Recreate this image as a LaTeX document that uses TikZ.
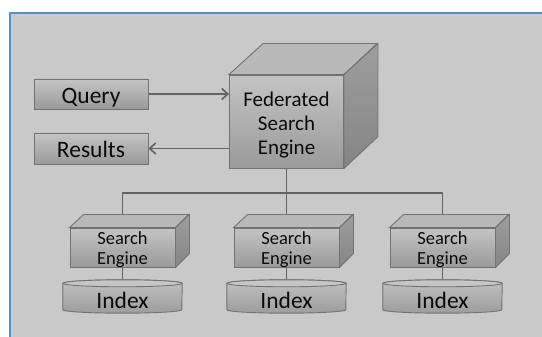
\documentclass[tikz,border=0pt]{standalone}
\usepackage{fontspec}
\setmainfont{Carlito}
\usetikzlibrary{arrows.meta}
\definecolor{bg}{HTML}{C9C9C9}
\definecolor{frameC}{HTML}{5A8CD2}
\definecolor{edge}{HTML}{727272}
\definecolor{faceT}{HTML}{C4C4C4}
\definecolor{faceB}{HTML}{9A9A9A}
\definecolor{topC}{HTML}{B9B9B9}
\definecolor{sideT}{HTML}{9E9E9E}
\definecolor{sideB}{HTML}{858585}
\definecolor{lineC}{HTML}{636363}
\definecolor{cylT}{HTML}{C2C2C2}
\definecolor{cylB}{HTML}{9C9C9C}
\definecolor{cylTop}{HTML}{C6C6C6}
\definecolor{txt}{HTML}{0A0A0A}
\pgfdeclarelayer{bottom}
\pgfdeclarelayer{background}
\pgfsetlayers{bottom,background,main}
\tikzset{
  face/.style={draw=edge, line width=0.9pt, top color=faceT, bottom color=faceB, inner sep=0pt, text=txt},
  lbl/.style={face, font=\fontsize{23.5}{26}\selectfont, text height=18.5pt, text depth=0pt, minimum width=114pt},
  idx/.style={inner sep=0pt, minimum width=119pt, minimum height=33pt, text=txt,
              font=\fontsize{23.5}{26}\selectfont, text height=24pt, text depth=0pt},
  conn/.style={draw=lineC, line width=1.7pt},
  arr/.style={conn, -{Straight Barb[length=6pt,width=11pt]}},
  topface/.style={draw=edge, line width=0.9pt, fill=topC},
  sideface/.style={draw=edge, line width=0.9pt, top color=sideT, bottom color=sideB},
  bigtxt/.style={align=center, font=\fontsize{21}{24}\selectfont, inner sep=0pt, text=txt},
  smalltxt/.style={align=center, font=\fontsize{18.5}{20}\selectfont, inner sep=0pt, text=txt},
  cylbody/.style={draw=edge, line width=0.9pt, top color=cylT, bottom color=cylB},
  cyltop/.style={draw=edge, line width=0.9pt, fill=cylTop},
}
\begin{document}
\begin{tikzpicture}[x=1pt,y=-1pt]
\useasboundingbox (0,0) rectangle (542,337);
\begin{pgfonlayer}{bottom}
  \fill[white] (0,0) rectangle (542,337);
  \fill[bg] (10,13) rectangle (542,337);
  \draw[frameC,line width=2pt] (10,337) -- (10,13) -- (542,13);
\end{pgfonlayer}

\node[lbl, minimum height=30pt] (q) at (91,94) {Query};
\node[lbl, minimum height=31pt] (r) at (91,148.5) {Results};

\node[face, minimum width=114pt, minimum height=93pt] (fed) at (286.5,121.5) {};
\node[bigtxt] (fedtxt) at (286.5,125) {Federated\\Search\\Engine};
\draw[topface] (fed.north west) -- ++(34,-31) -- ++(114,0) -- (fed.north east) -- cycle;
\draw[sideface] (fed.north east) -- ++(34,-31) -- ++(0,93) -- (fed.south east) -- cycle;

\foreach \n/\x in {1/122.5, 2/286.5, 3/442.5} {
  \node[face, minimum width=105pt, minimum height=39pt] (s\n) at (\x,247.5) {};
  \node[smalltxt] (st\n) at (\x,249.7) {Search\\Engine};
  \draw[topface] (s\n.north west) -- ++(14,-13) -- ++(105,0) -- (s\n.north east) -- cycle;
  \draw[sideface] (s\n.north east) -- ++(14,-13) -- ++(0,39) -- (s\n.south east) -- cycle;
  \node[idx] (i\n) at (\x,296.5) {Index};
}

\begin{pgfonlayer}{background}
  \draw[arr] (q.east) -- (q.east -| fed.west);
  \draw[arr] (r.east -| fed.west) -- (r.east);
  \coordinate (bus) at (286.5,193);
  \draw[conn] (fed.south) -- (s2.north);
  \draw[conn] (s1.north) -- (s1.north |- bus) -- (s3.north |- bus) -- (s3.north);
  \foreach \n in {1,2,3} {
    \draw[conn] (s\n.south) -- (i\n.north);
  }
  \foreach \n in {1,2,3} {
    \draw[cylbody] ([yshift=-3.5pt]i\n.north west) -- ([yshift=3.5pt]i\n.south west)
      arc[start angle=180, end angle=360, x radius=59.5pt, y radius=3.5pt]
      -- ([yshift=-3.5pt]i\n.north east)
      arc[start angle=0, end angle=180, x radius=59.5pt, y radius=3.5pt] -- cycle;
    \draw[cyltop] ([yshift=-3.5pt]i\n.north) ellipse[x radius=59.5pt, y radius=3.5pt];
  }
\end{pgfonlayer}
\end{tikzpicture}
\end{document}
